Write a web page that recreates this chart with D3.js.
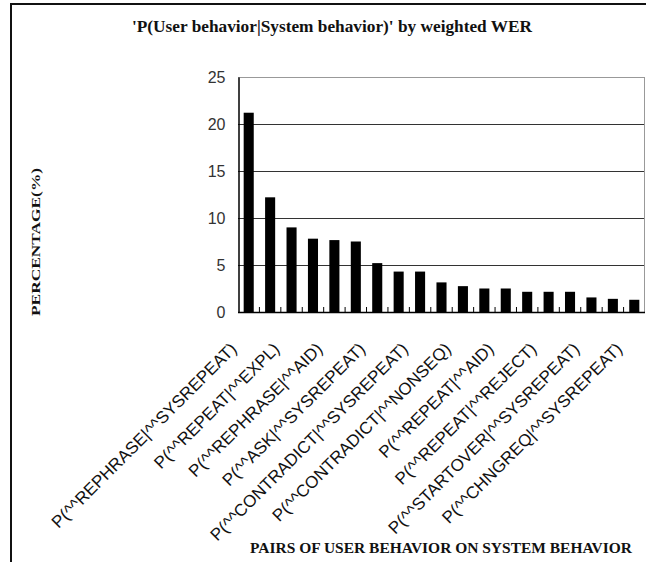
<!DOCTYPE html>
<html>
<head>
<meta charset="utf-8">
<script src="https://cdn.jsdelivr.net/npm/d3@7"></script>
<style>
  html, body { margin: 0; padding: 0; background: #fff; }
  svg { display: block; }
</style>
</head>
<body>
<script>
// ---- data ----
const title = "'P(User behavior|System behavior)' by weighted WER";
const yTitle = "PERCENTAGE(%)";
const xTitle = "PAIRS OF USER BEHAVIOR ON SYSTEM BEHAVIOR";
const values = [21.2, 12.2, 9.0, 7.8, 7.65, 7.5, 5.2, 4.3, 4.3, 3.15, 2.75, 2.5, 2.5, 2.15, 2.15, 2.15, 1.55, 1.4, 1.3];
// only every other category carries a visible label
const tickLabels = [
  "P(^^REPHRASE|^^SYSREPEAT)",
  "P(^^REPEAT|^^EXPL)",
  "P(^^REPHRASE|^^AID)",
  "P(^^ASK|^^SYSREPEAT)",
  "P(^^CONTRADICT|^^SYSREPEAT)",
  "P(^^CONTRADICT|^^NONSEQ)",
  "P(^^REPEAT|^^AID)",
  "P(^^REPEAT|^^REJECT)",
  "P(^^STARTOVER|^^SYSREPEAT)",
  "P(^^CHNGREQ|^^SYSREPEAT)"
];
const yTicks = [0, 5, 10, 15, 20, 25];

// ---- layout ----
const W = 646, H = 562;
const plot = { left: 238, right: 645, top: 77, bottom: 312 };

const svg = d3.select("body").append("svg").attr("width", W).attr("height", H);

// outer frame
svg.append("rect").attr("x", 11).attr("y", 4).attr("width", W + 20).attr("height", H + 20)
  .attr("fill", "none").attr("stroke", "#111").attr("stroke-width", 2);

const x = d3.scaleBand().domain(d3.range(values.length))
  .range([plot.left, plot.right]).paddingInner(0.53).paddingOuter(0.265);
const xb = d3.scaleBand().domain(d3.range(values.length)).range([plot.left, plot.right]);
const y = d3.scaleLinear().domain([0, 25]).range([plot.bottom, plot.top]);

// gridlines
svg.append("g").selectAll("line").data(yTicks.filter(t => t > 0 && t < 25)).join("line")
  .attr("x1", plot.left).attr("x2", plot.right)
  .attr("y1", d => Math.round(y(d)) + 0.5).attr("y2", d => Math.round(y(d)) + 0.5)
  .attr("stroke", "#333").attr("stroke-width", 1);
// top and right border
svg.append("line").attr("x1", plot.left).attr("x2", plot.right)
  .attr("y1", Math.round(y(25)) + 0.5).attr("y2", Math.round(y(25)) + 0.5)
  .attr("stroke", "#999");
svg.append("line").attr("x1", plot.right - 0.5).attr("x2", plot.right - 0.5)
  .attr("y1", y(25)).attr("y2", y(0)).attr("stroke", "#999");

// bars
svg.append("g").selectAll("rect").data(values).join("rect")
  .attr("x", (d, i) => x(i)).attr("width", x.bandwidth())
  .attr("y", d => y(d)).attr("height", d => y(0) - y(d))
  .attr("fill", "#000");

// y axis
const yAxis = d3.axisLeft(y).tickValues(yTicks).tickSize(0).tickPadding(13).tickFormat(d3.format("d"));
const gy = svg.append("g").attr("transform", `translate(${plot.left + 0.5},0)`).call(yAxis);
gy.select(".domain").attr("stroke", "#000").attr("stroke-width", 1.5);
gy.selectAll("text").attr("font-family", "'Liberation Sans', Arial, sans-serif")
  .attr("font-size", 16).attr("fill", "#333");

// x axis (ticks inward at band boundaries)
const gx = svg.append("g").attr("transform", `translate(0,${plot.bottom})`);
gx.append("line").attr("x1", plot.left).attr("x2", plot.right).attr("y1", 0.5).attr("y2", 0.5)
  .attr("stroke", "#000").attr("stroke-width", 1.5);
gx.selectAll("line.tk").data(d3.range(1, values.length)).join("line").attr("class", "tk")
  .attr("x1", i => xb(i)).attr("x2", i => xb(i)).attr("y1", 0).attr("y2", -5)
  .attr("stroke", "#000");

// category labels (every other category)
svg.append("g").selectAll("text").data(tickLabels).join("text")
  .attr("transform", (d, k) => `translate(${x(k * 2) + x.bandwidth() / 2 - 11},${plot.bottom + 38}) rotate(-45)`)
  .attr("text-anchor", "end")
  .attr("font-family", "'Liberation Sans', Arial, sans-serif")
  .attr("font-size", 17).attr("fill", "#111")
  .text(d => d);

// titles
svg.append("text").attr("x", 332).attr("y", 32).attr("text-anchor", "middle")
  .attr("font-family", "'Liberation Serif', 'Times New Roman', serif").attr("font-weight", "bold")
  .attr("font-size", 16).attr("textLength", 400).attr("lengthAdjust", "spacingAndGlyphs")
  .attr("fill", "#111").text(title);

svg.append("text").attr("transform", `translate(40,242) rotate(-90)`).attr("text-anchor", "middle")
  .attr("font-family", "'Liberation Serif', 'Times New Roman', serif").attr("font-weight", "bold")
  .attr("font-size", 13).attr("textLength", 148).attr("lengthAdjust", "spacingAndGlyphs")
  .attr("fill", "#111").text(yTitle);

svg.append("text").attr("x", 441).attr("y", 553).attr("text-anchor", "middle")
  .attr("font-family", "'Liberation Serif', 'Times New Roman', serif").attr("font-weight", "bold")
  .attr("font-size", 14).attr("textLength", 382).attr("lengthAdjust", "spacingAndGlyphs")
  .attr("fill", "#111").text(xTitle);
</script>
</body>
</html>
